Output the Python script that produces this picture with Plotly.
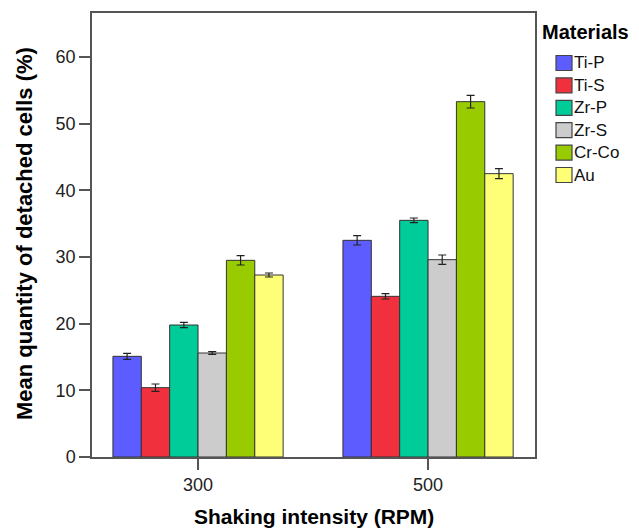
import plotly.graph_objects as go

categories = ["300", "500"]
materials = ["Ti-P", "Ti-S", "Zr-P", "Zr-S", "Cr-Co", "Au"]
means = {
    "Ti-P": [15.1, 32.5],
    "Ti-S": [10.4, 24.1],
    "Zr-P": [19.8, 35.5],
    "Zr-S": [15.6, 29.6],
    "Cr-Co": [29.5, 53.3],
    "Au": [27.3, 42.5],
}
errors = {
    "Ti-P": [0.45, 0.7],
    "Ti-S": [0.55, 0.4],
    "Zr-P": [0.4, 0.35],
    "Zr-S": [0.2, 0.7],
    "Cr-Co": [0.7, 0.95],
    "Au": [0.3, 0.75],
}
colors = ["#5c5cff", "#f0303c", "#00cc99", "#cccccc", "#99cc00", "#ffff77"]
y_ticks = [0, 10, 20, 30, 40, 50, 60]

W, H = 639, 528
L, R, T, B = 92, 104, 13, 71
pw, ph = W - L - R, H - T - B

fig = go.Figure()
for m, c in zip(materials, colors):
    fig.add_trace(go.Bar(
        x=categories, y=means[m], name=m,
        marker=dict(color=c, line=dict(color="#333333", width=1)),
        error_y=dict(type="data", array=errors[m], color="#222222", thickness=1.2, width=4),
        showlegend=False,
    ))

font = "Liberation Sans, Arial, sans-serif"
fig.update_layout(
    width=W, height=H,
    margin=dict(l=L, r=R, t=T, b=B),
    paper_bgcolor="white", plot_bgcolor="white",
    barmode="group", bargap=0.26, bargroupgap=0,
    font=dict(family=font, size=14, color="#222222"),
    xaxis=dict(
        type="category", range=[-0.461, 1.465],
        showline=True, mirror=True, linecolor="#555555", linewidth=1.5,
        ticks="outside", ticklen=11, tickcolor="#555555", tickwidth=1.5,
        tickfont=dict(size=18, color="#222222"), showgrid=False,
    ),
    yaxis=dict(
        range=[0, 66.6], tickvals=y_ticks,
        showline=True, mirror=True, linecolor="#555555", linewidth=1.5,
        ticks="outside", ticklen=11, tickcolor="#555555", tickwidth=1.5,
        tickfont=dict(size=18, color="#222222"), showgrid=False, zeroline=False,
    ),
)

annotations = [
    dict(text="<b>Mean quantity of detached cells (%)</b>", xref="paper", yref="paper",
         x=(24 - L) / pw, y=(H - B - 234) / ph, textangle=-90, showarrow=False,
         xanchor="center", yanchor="middle", font=dict(size=22, color="#000000")),
    dict(text="<b>Shaking intensity (RPM)</b>", xref="paper", yref="paper",
         x=0.5, y=(H - B - 516) / ph, showarrow=False,
         xanchor="center", yanchor="middle", font=dict(size=21, color="#000000")),
    dict(text="<b>Materials</b>", xref="paper", yref="paper",
         x=(540 - L) / pw, y=(H - B - 32) / ph, showarrow=False,
         xanchor="left", yanchor="middle", font=dict(size=20, color="#000000")),
]
shapes = []
for i, (m, c) in enumerate(zip(materials, colors)):
    cy = 63 + 22.4 * i
    shapes.append(dict(type="rect", xref="paper", yref="paper",
                       x0=(556 - L) / pw, x1=(572 - L) / pw,
                       y0=(H - B - (cy + 7.5)) / ph, y1=(H - B - (cy - 7.5)) / ph,
                       fillcolor=c, line=dict(color="#444444", width=1.2)))
    annotations.append(dict(text=m, xref="paper", yref="paper",
                            x=(572 - L) / pw, y=(H - B - cy) / ph, showarrow=False,
                            xanchor="left", yanchor="middle",
                            font=dict(size=17, color="#111111")))
fig.update_layout(annotations=annotations, shapes=shapes)

fig.write_html("out.html")
